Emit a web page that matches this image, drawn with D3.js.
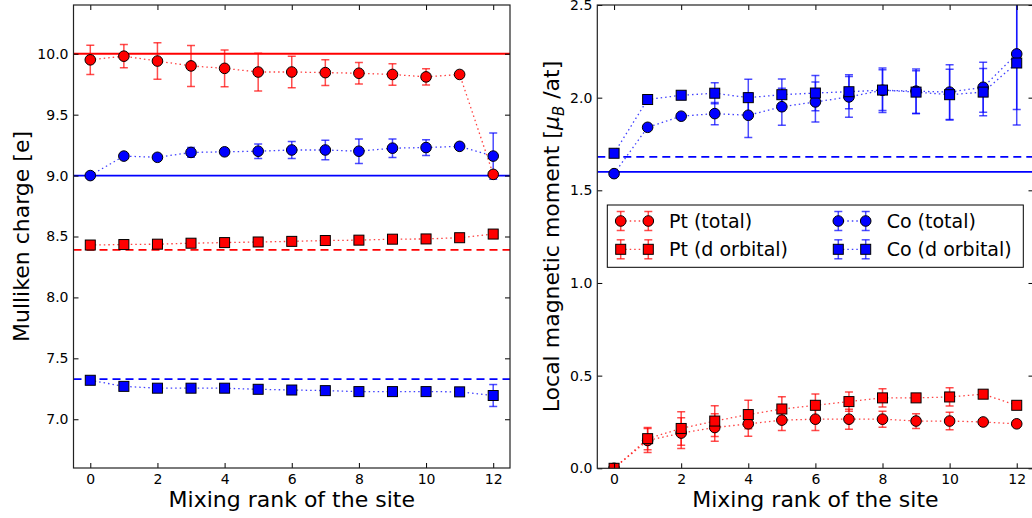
<!DOCTYPE html>
<html><head><meta charset="utf-8">
<script src="https://cdn.jsdelivr.net/npm/d3@7"></script>
<style>
html,body{margin:0;padding:0;background:#fff;}
text{font-family:"DejaVu Sans",sans-serif;}
</style></head>
<body>
<svg id="chart" width="1032" height="518"></svg>
<script>
// ---------- data ----------
const ranks = [0,1,2,3,4,5,6,7,8,9,10,11,12];
const xTicks = [0,2,4,6,8,10,12];
const chargeTicks = [7.0,7.5,8.0,8.5,9.0,9.5,10.0];
const momentTicks = [0.0,0.5,1.0,1.5,2.0,2.5];

// Mulliken charge (left panel)
const ptTotalCharge    = [9.95,9.98,9.94,9.90,9.88,9.85,9.85,9.845,9.84,9.83,9.81,9.83,9.01];
const ptTotalChargeErr = [0.12,0.095,0.15,0.168,0.15,0.155,0.13,0.105,0.088,0.088,0.066,0,0];
const ptDCharge        = [8.43,8.434,8.437,8.445,8.45,8.455,8.46,8.467,8.47,8.478,8.48,8.49,8.52];
const ptDChargeErr     = [0.03,0.01,0.01,0.01,0.01,0.01,0.01,0.01,0.01,0.01,0.01,0,0];
const coTotalCharge    = [9.00,9.16,9.15,9.19,9.195,9.20,9.21,9.21,9.20,9.225,9.23,9.24,9.16];
const coTotalChargeErr = [0,0,0,0.04,0.02,0.06,0.07,0.08,0.10,0.076,0.065,0,0.19];
const coDCharge        = [7.32,7.27,7.255,7.255,7.255,7.246,7.24,7.235,7.227,7.227,7.227,7.225,7.195];
const coDChargeErr     = [0,0,0,0,0,0,0,0,0,0,0,0,0.09];
const chargeRefPtTotal = 10.0, chargeRefCoTotal = 9.0, chargeRefPtD = 8.39, chargeRefCoD = 7.33;

// Local magnetic moment (right panel)
const ptTotalMom    = [0.0,0.15,0.19,0.22,0.24,0.26,0.265,0.265,0.265,0.255,0.255,0.25,0.24];
const ptTotalMomErr = [0,0.065,0.083,0.074,0.067,0.056,0.061,0.054,0.043,0.04,0.047,0,0];
const ptDMom        = [0.0,0.16,0.215,0.255,0.29,0.32,0.34,0.36,0.38,0.38,0.385,0.40,0.34];
const ptDMomErr     = [0,0.06,0.09,0.083,0.077,0.066,0.061,0.052,0.049,0,0.049,0,0];
const coTotalMom    = [1.59,1.84,1.90,1.914,1.905,1.951,1.977,2.004,2.04,2.035,2.03,2.056,2.236];
const coTotalMomErr = [0,0,0,0.06,0.12,0.10,0.108,0.11,0.12,0.12,0.148,0.135,0.30];
const coDMom        = [1.70,1.99,2.013,2.024,2.0,2.016,2.025,2.032,2.041,2.03,2.016,2.03,2.187];
const coDMomErr     = [0,0,0,0.057,0.10,0.085,0.095,0.092,0.11,0.115,0.137,0.128,0.335];
const momRefCoTotal = 1.60, momRefCoD = 1.68;

const legendLabels = ["Pt (total)","Pt (d orbital)","Co (total)","Co (d orbital)"];
const RED = "#ff0000", BLUE = "#0000ff";

// ---------- drawing ----------
const svg = d3.select("#chart");
const fmt = d3.format(".1f");

function panel(box, yDomain, yTicks, id){
  const x = d3.scaleLinear().domain([-0.5,12.5]).range([box.x0, box.x1]);
  const y = d3.scaleLinear().domain(yDomain).range([box.y1, box.y0]);
  const g = svg.append("g");
  svg.append("clipPath").attr("id", id).append("rect")
    .attr("x", box.x0).attr("y", box.y0).attr("width", box.x1-box.x0).attr("height", box.y1-box.y0);
  const data = g.append("g").attr("clip-path", `url(#${id})`);

  // axes with inward ticks
  const ax = (gen, tr, labels) => {
    const a = g.append("g").attr("transform", tr).call(gen);
    a.select(".domain").remove();
    a.selectAll(".tick line").attr("stroke","#000").attr("stroke-width",1);
    a.selectAll("text").attr("font-size",14).attr("fill","#000").attr("font-family","DejaVu Sans");
    if(!labels) a.selectAll("text").remove();
    return a;
  };
  ax(d3.axisBottom(x).tickValues(xTicks).tickSize(-5).tickPadding(6).tickFormat(d3.format("d")), `translate(0,${box.y1})`, true);
  ax(d3.axisTop(x).tickValues(xTicks).tickSize(-5), `translate(0,${box.y0})`, false);
  ax(d3.axisLeft(y).tickValues(yTicks).tickSize(-5).tickPadding(5).tickFormat(fmt), `translate(${box.x0},0)`, true);
  ax(d3.axisRight(y).tickValues(yTicks).tickSize(-5), `translate(${box.x1},0)`, false);
  return {x, y, g, data};
}

function hline(p, v, color, dashed){
  p.data.append("line").attr("x1", p.x.range()[0]).attr("x2", p.x.range()[1])
    .attr("y1", p.y(v)).attr("y2", p.y(v))
    .attr("stroke", color).attr("stroke-width", 1.8)
    .attr("stroke-dasharray", dashed ? "8,5" : null);
}

function errorbars(p, vals, errs, color){
  const gg = p.data.append("g").attr("stroke", color).attr("stroke-width",1.5).attr("stroke-opacity",0.7);
  ranks.forEach((r,i)=>{
    const e = errs[i]; if(!(e>0)) return;
    const cx = p.x(r), ya = p.y(vals[i]-e), yb = p.y(vals[i]+e);
    gg.append("line").attr("x1",cx).attr("x2",cx).attr("y1",ya).attr("y2",yb);
    gg.append("line").attr("x1",cx-4).attr("x2",cx+4).attr("y1",ya).attr("y2",ya);
    gg.append("line").attr("x1",cx-4).attr("x2",cx+4).attr("y1",yb).attr("y2",yb);
  });
}
function connect(p, vals, color){
  p.data.append("path").datum(vals)
    .attr("d", d3.line().x((d,i)=>p.x(ranks[i])).y(d=>p.y(d)))
    .attr("fill","none").attr("stroke",color).attr("stroke-width",1.3)
    .attr("stroke-opacity",0.75).attr("stroke-dasharray","1.5,3");
}
function marker(sel, cx, cy, color, shape){
  if(shape==="circle"){
    sel.append("circle").attr("cx",cx).attr("cy",cy).attr("r",5.3)
      .attr("fill",color).attr("stroke","#000").attr("stroke-width",1);
  } else {
    sel.append("rect").attr("x",cx-5).attr("y",cy-5).attr("width",10).attr("height",10)
      .attr("fill",color).attr("stroke","#000").attr("stroke-width",1);
  }
}
function markers(p, vals, color, shape){
  const gg = p.data.append("g");
  ranks.forEach((r,i)=>marker(gg, p.x(r), p.y(vals[i]), color, shape));
}
function series(p, list){
  list.forEach(s=>errorbars(p, s.v, s.e, s.c));
  list.forEach(s=>connect(p, s.v, s.c));
  list.forEach(s=>markers(p, s.v, s.c, s.shape));
}
function frame(box){
  svg.append("rect").attr("x",box.x0).attr("y",box.y0).attr("width",box.x1-box.x0).attr("height",box.y1-box.y0)
    .attr("fill","none").attr("stroke","#222").attr("stroke-width",1.2);
}

// Left panel
const LB = {x0:73.5, x1:510, y0:5, y1:468};
const L = panel(LB, [6.6,10.4], chargeTicks, "clipL");
hline(L, chargeRefPtTotal, RED, false);
hline(L, chargeRefCoTotal, BLUE, false);
hline(L, chargeRefPtD, RED, true);
hline(L, chargeRefCoD, BLUE, true);
series(L, [
  {v:ptTotalCharge, e:ptTotalChargeErr, c:RED, shape:"circle"},
  {v:ptDCharge, e:ptDChargeErr, c:RED, shape:"square"},
  {v:coTotalCharge, e:coTotalChargeErr, c:BLUE, shape:"circle"},
  {v:coDCharge, e:coDChargeErr, c:BLUE, shape:"square"}
]);
frame(LB);

// Right panel
const RB = {x0:597.3, x1:1033.5, y0:5, y1:468.3};
const R = panel(RB, [0,2.5], momentTicks, "clipR");
hline(R, momRefCoTotal, BLUE, false);
hline(R, momRefCoD, BLUE, true);
series(R, [
  {v:ptTotalMom, e:ptTotalMomErr, c:RED, shape:"circle"},
  {v:ptDMom, e:ptDMomErr, c:RED, shape:"square"},
  {v:coTotalMom, e:coTotalMomErr, c:BLUE, shape:"circle"},
  {v:coDMom, e:coDMomErr, c:BLUE, shape:"square"}
]);
frame(RB);

// Axis labels
svg.append("text").attr("x",(LB.x0+LB.x1)/2).attr("y",507).attr("text-anchor","middle")
  .attr("font-size",22).text("Mixing rank of the site");
svg.append("text").attr("x",(RB.x0+RB.x1)/2).attr("y",507).attr("text-anchor","middle")
  .attr("font-size",22).text("Mixing rank of the site");
svg.append("text").attr("transform","translate(29,236.5) rotate(-90)").attr("text-anchor","middle")
  .attr("font-size",22).text("Mulliken charge [e]");
const yl = svg.append("text").attr("transform","translate(559,236.5) rotate(-90)").attr("text-anchor","middle")
  .attr("font-size",22);
yl.append("tspan").text("Local magnetic moment [");
yl.append("tspan").attr("font-style","italic").text("μ");
yl.append("tspan").attr("font-size",15).attr("font-style","italic").attr("dy",5).text("B");
yl.append("tspan").attr("dy",-5).text(" /at]");

// Legend
const leg = svg.append("g");
leg.append("rect").attr("x",607.3).attr("y",205).attr("width",416).attr("height",62.3)
  .attr("fill","#fff").attr("stroke","#000").attr("stroke-width",1);
const legItems = [
  {label:legendLabels[0], c:RED, shape:"circle", mx:[620.7,648.3], tx:669, cy:221},
  {label:legendLabels[1], c:RED, shape:"square", mx:[620.7,648.3], tx:669, cy:249.3},
  {label:legendLabels[2], c:BLUE, shape:"circle", mx:[838.3,865.7], tx:886.7, cy:221},
  {label:legendLabels[3], c:BLUE, shape:"square", mx:[838.3,865.7], tx:886.7, cy:249.3}
];
legItems.forEach(it=>{
  const gi = leg.append("g");
  it.mx.forEach(mx=>{
    const eg = gi.append("g").attr("stroke",it.c).attr("stroke-width",1.5).attr("stroke-opacity",0.7);
    eg.append("line").attr("x1",mx).attr("x2",mx).attr("y1",it.cy-9.5).attr("y2",it.cy+9.5);
    eg.append("line").attr("x1",mx-4).attr("x2",mx+4).attr("y1",it.cy-9.5).attr("y2",it.cy-9.5);
    eg.append("line").attr("x1",mx-4).attr("x2",mx+4).attr("y1",it.cy+9.5).attr("y2",it.cy+9.5);
  });
  gi.append("line").attr("x1",it.mx[0]).attr("x2",it.mx[1]).attr("y1",it.cy).attr("y2",it.cy)
    .attr("stroke",it.c).attr("stroke-width",1.3).attr("stroke-opacity",0.75).attr("stroke-dasharray","1.5,3");
  it.mx.forEach(mx=>marker(gi, mx, it.cy, it.c, it.shape));
  gi.append("text").attr("x",it.tx).attr("y",it.cy+7).attr("font-size",19).text(it.label);
});
</script>
</body></html>
